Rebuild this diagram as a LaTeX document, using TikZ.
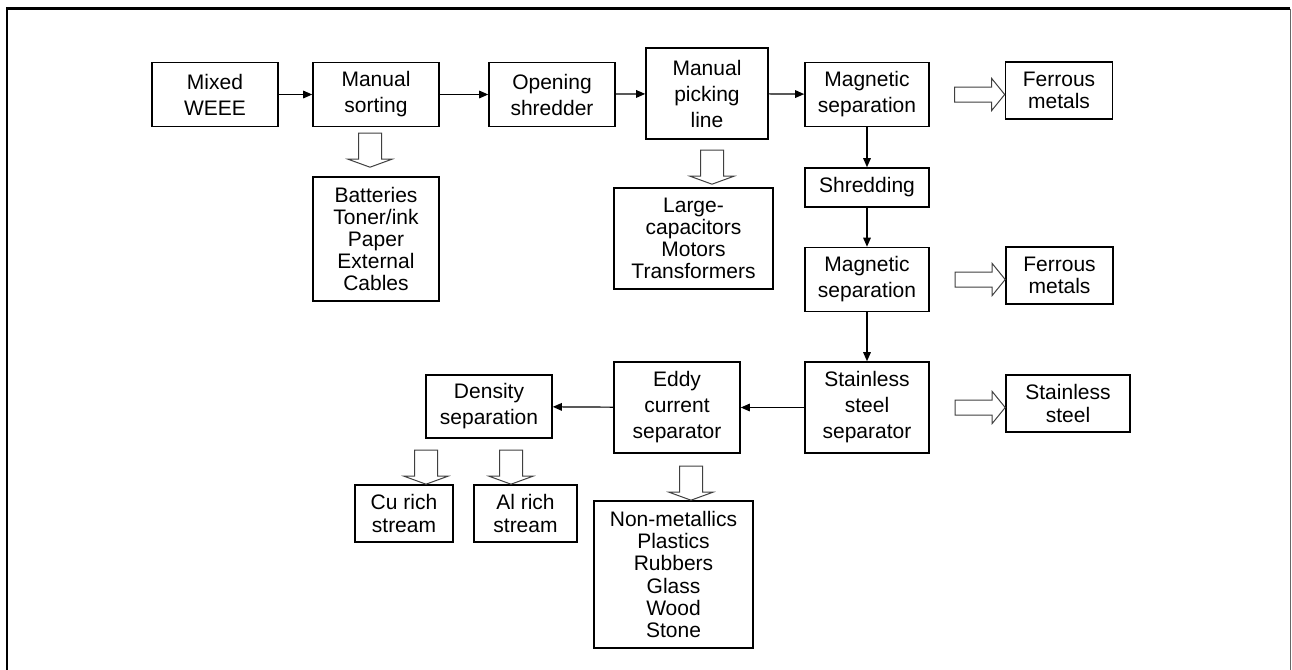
\documentclass[tikz,border=0pt]{standalone}
\usepackage{fontspec}
\setmainfont{Liberation Sans}
\usetikzlibrary{arrows.meta,calc}

\tikzset{
  box/.style={draw, line width=0.8pt, align=center, inner sep=1pt,
    font=\fontsize{10.5}{13}\selectfont},
  outbox/.style={box, font=\fontsize{10.5}{11.1}\selectfont},
  flow/.style={line width=0.6pt, -{Triangle[length=4.5pt,width=3.8pt]}},
  hollow/.style={draw=black!75, line width=0.5pt, fill=white}
}
% hollow arrows, given by their tip
\newcommand{\hollowdown}[1]{\draw[hollow] #1 -- ++(22,-8) -- ++(-10.5,0) -- ++(0,-26) -- ++(-23,0) -- ++(0,26) -- ++(-10.5,0) -- cycle;}
\newcommand{\hollowright}[1]{\draw[hollow] #1 -- ++(-13,-16) -- ++(0,8.5) -- ++(-37,0) -- ++(0,15) -- ++(37,0) -- ++(0,8.5) -- cycle;}

\begin{document}
\begin{tikzpicture}[x=0.5pt,y=-0.5pt]
\useasboundingbox (0,0) rectangle (1292,670);
% frame
\draw[line width=1.1pt] (7,670) -- (7,8.5) -- (1290,8.5);
\draw[black!60, line width=0.5pt] (1290,8.5) -- (1290,670);

% top row
\node[box, minimum width=63pt, minimum height=32pt] (mixed) at (215,94.5) {Mixed\\WEEE};
\node[box, minimum width=63pt, minimum height=32pt] (sort) at (376,94.5) {Manual\\sorting};
\node[box, minimum width=63pt, minimum height=32pt] (open) at (552,94.5) {Opening\\shredder};
\node[box, minimum width=61pt, minimum height=45.5pt] (pick) at (707,93.5) {Manual\\picking\\line};
\node[box, minimum width=62pt, minimum height=32pt] (mag1) at (867,94.5) {Magnetic\\separation};
\node[outbox, minimum width=53.5pt, minimum height=28.5pt] (ferr1) at (1059,90.5) {Ferrous\\metals};

% side outputs
\node[outbox, minimum width=63pt, minimum height=62pt] (batt) at (376,239) {Batteries\\Toner/ink\\Paper\\External\\Cables};
\node[outbox, minimum width=79.5pt, minimum height=50.5pt] (large) at (693.5,238.5) {Large-\\capacitors\\Motors\\Transformers};

% right column
\node[box, minimum width=62pt, minimum height=19.5pt] (shred) at (867,187.5) {Shredding};
\node[box, minimum width=62pt, minimum height=32pt] (mag2) at (867,279.5) {Magnetic\\separation};
\node[outbox, minimum width=53.5pt, minimum height=28.5pt] (ferr2) at (1059.5,275.5) {Ferrous\\metals};
\node[box, minimum width=62pt, minimum height=45.5pt] (sss) at (867,407.5) {Stainless\\steel\\separator};
\node[outbox, minimum width=62pt, minimum height=28.5pt] (stain) at (1068,403.5) {Stainless\\steel};

% bottom row
\node[box, minimum width=63pt, minimum height=45.5pt] (eddy) at (677,407.5) {Eddy\\current\\separator};
\node[box, minimum width=63pt, minimum height=31.5pt] (dens) at (489,406.5) {Density\\separation};
\node[outbox, minimum width=49pt, minimum height=28.5pt] (cu) at (404,513.5) {Cu rich\\stream};
\node[outbox, minimum width=51.5pt, minimum height=28.5pt] (al) at (525.5,513.5) {Al rich\\stream};
\node[outbox, minimum width=79.5pt, minimum height=73.5pt] (nonmet) at (673.5,574.5) {Non-metallics\\Plastics\\Rubbers\\Glass\\Wood\\Stone};

% main flow
\draw[flow] (mixed) -- (sort);
\draw[flow] (sort) -- (open);
\draw[flow] (open) -- (pick);
\draw[flow] (pick) -- (mag1);
\draw[flow] (mag1) -- (shred);
\draw[flow] (shred) -- (mag2);
\draw[flow] (mag2) -- (sss);
\draw[flow] (sss) -- (eddy);
\draw[flow] (eddy) -- (dens);

% hollow arrows
\hollowright{(ferr1.west |- mag1.east)}
\hollowright{(ferr2.west |- mag2.east)}
\hollowright{(stain.west |- sss.east)}
\hollowdown{($(batt.north)+(-6,-9)$)}
\hollowdown{($(large.north)+(18.5,-3)$)}
\hollowdown{($(cu.north)+(22,0)$)}
\hollowdown{($(al.north)+(-14.5,0)$)}
\hollowdown{($(nonmet.north)+(17.5,0)$)}
\end{tikzpicture}
\end{document}
